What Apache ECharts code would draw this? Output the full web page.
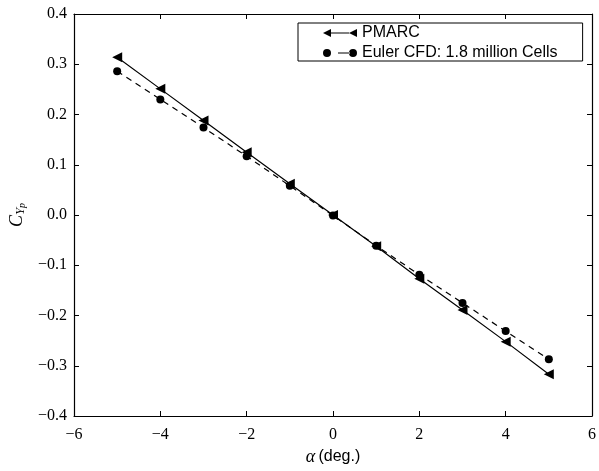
<!DOCTYPE html>
<html>
<head>
<meta charset="utf-8">
<script src="https://cdn.jsdelivr.net/npm/echarts@6/dist/echarts.min.js"></script>
<style>
html,body{margin:0;padding:0;background:#fff;}
#chart{width:599px;height:471px;}
</style>
</head>
<body>
<div id="chart"></div>
<script>
// Data
const alpha = [-5, -4, -3, -2, -1, 0, 1, 2, 3, 4, 5];
const pmarc = [0.314, 0.251, 0.188, 0.125, 0.062, 0.000, -0.062, -0.127, -0.189, -0.252, -0.317];
const euler = [0.286, 0.230, 0.174, 0.117, 0.058, -0.001, -0.061, -0.119, -0.175, -0.231, -0.287];
const seriesNames = ['PMARC', 'Euler CFD: 1.8 million Cells'];
const xTicks = {min: -6, max: 6, interval: 2};
const yTicks = {min: -0.4, max: 0.4, interval: 0.1};

const chart = echarts.init(document.getElementById('chart'), null, {renderer: 'canvas'});

const serif = 'Liberation Serif';
const sans = 'Liberation Sans';
const fmtMinus = s => String(s).replace('-', '\u2212');

const iconPmarc = 'path://M0 4 L8 0 L8 8 Z M8 3.5 L26 3.5 L26 4.5 L8 4.5 Z M26 4 L34 0 L34 8 Z';
const iconEuler = 'path://M0 4 A4 4 0 1 0 8 4 A4 4 0 1 0 0 4 Z M15 3.5 L27 3.5 L27 4.5 L15 4.5 Z M26 4 A4 4 0 1 0 34 4 A4 4 0 1 0 26 4 Z';

const axisCommon = {
  type: 'value',
  splitLine: {show: false},
  axisLine: {show: true, onZero: false, lineStyle: {color: '#000', width: 1.2}},
  axisTick: {show: true, inside: true, length: 5, lineStyle: {color: '#000', width: 1}},
};

chart.setOption({
  animation: false,
  backgroundColor: '#fff',
  grid: {left: 74, right: 2, top: 14, bottom: 52, containLabel: false},
  legend: {
    left: 298, top: 23,
    orient: 'vertical',
    backgroundColor: '#fff',
    borderColor: '#000', borderWidth: 1, borderRadius: 0,
    padding: [2, 25, 0, 25],
    itemGap: 4,
    itemWidth: 34, itemHeight: 8,
    textStyle: {fontFamily: sans, fontSize: 16, color: '#000', lineHeight: 15},
    data: [
      {name: seriesNames[0], icon: iconPmarc},
      {name: seriesNames[1], icon: iconEuler}
    ]
  },
  xAxis: [
    Object.assign({}, axisCommon, {
      position: 'bottom',
      min: xTicks.min, max: xTicks.max, interval: xTicks.interval,
      axisLabel: {color: '#000', fontFamily: serif, fontSize: 16, margin: 11, formatter: v => fmtMinus(v)},
      name: '{a|α} {b|(deg.)}',
      nameLocation: 'middle',
      nameGap: 32,
      nameTextStyle: {
        rich: {
          a: {fontFamily: serif, fontStyle: 'italic', fontSize: 18, color: '#000'},
          b: {fontFamily: sans, fontSize: 16, color: '#000'}
        }
      }
    }),
    Object.assign({}, axisCommon, {
      position: 'top',
      min: xTicks.min, max: xTicks.max, interval: xTicks.interval,
      axisLabel: {show: false}
    })
  ],
  yAxis: [
    Object.assign({}, axisCommon, {
      position: 'left',
      min: yTicks.min, max: yTicks.max, interval: yTicks.interval,
      axisLabel: {color: '#000', fontFamily: serif, fontSize: 16, margin: 7,
        formatter: v => fmtMinus((Math.round(v * 10) / 10).toFixed(1))},
      name: '{c|C}{s|Y}{t|p}',
      nameLocation: 'middle',
      nameRotate: 90,
      nameGap: 46,
      nameTextStyle: {
        rich: {
          c: {fontFamily: serif, fontStyle: 'italic', fontSize: 18, color: '#000', lineHeight: 20, verticalAlign: 'middle'},
          s: {fontFamily: serif, fontStyle: 'italic', fontSize: 13, color: '#000', lineHeight: 13, verticalAlign: 'bottom'},
          t: {fontFamily: serif, fontStyle: 'italic', fontSize: 10, color: '#000', lineHeight: 7, verticalAlign: 'bottom'}
        }
      }
    }),
    Object.assign({}, axisCommon, {
      position: 'right',
      min: yTicks.min, max: yTicks.max, interval: yTicks.interval,
      axisLabel: {show: false}
    })
  ],
  series: [
    {
      name: seriesNames[0],
      type: 'line',
      xAxisIndex: 0, yAxisIndex: 0,
      data: alpha.map((a, i) => [a, pmarc[i]]),
      symbol: 'triangle',
      symbolRotate: 90,
      symbolSize: 10,
      itemStyle: {color: '#000'},
      lineStyle: {color: '#000', width: 1.2, type: 'solid'},
      z: 3
    },
    {
      name: seriesNames[1],
      type: 'line',
      xAxisIndex: 0, yAxisIndex: 0,
      data: alpha.map((a, i) => [a, euler[i]]),
      symbol: 'circle',
      symbolSize: 8,
      itemStyle: {color: '#000'},
      lineStyle: {color: '#000', width: 1.2, type: [6, 5]},
      z: 2
    }
  ]
});
</script>
</body>
</html>
